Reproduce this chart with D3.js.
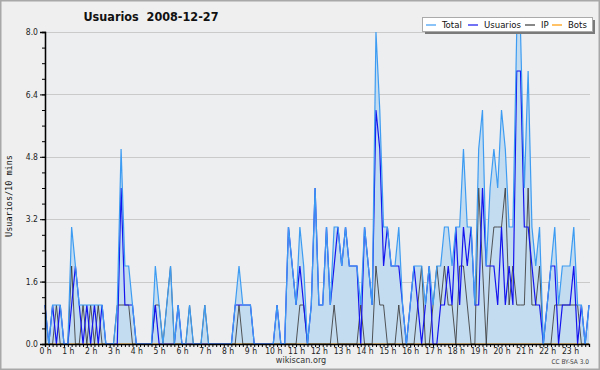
<!DOCTYPE html>
<html>
<head>
<meta charset="utf-8">
<script src="https://cdnjs.cloudflare.com/ajax/libs/d3/7.8.5/d3.min.js"></script>
<style>
	body { margin: 0; background: #fff; }
	svg { display: block; font-family: 'DejaVu Sans Condensed', 'DejaVu Sans', sans-serif; font-stretch: condensed; }
</style>
</head>
<body>
<svg id="chart" width="600" height="370"></svg>
<script>
'use strict';

var TITLE = 'Usuarios  2008-12-27';
var Y_LABEL = 'Usuarios/10 mins';
var Y_TICKS = [0, 1.6, 3.2, 4.8, 6.4, 8.0];
var HOUR_LABELS = ['0 h', '1 h', '2 h', '3 h', '4 h', '5 h', '6 h', '7 h', '8 h', '9 h', '10 h', '11 h',
	'12 h', '13 h', '14 h', '15 h', '16 h', '17 h', '18 h', '19 h', '20 h', '21 h', '22 h', '23 h'];
var SERIES_NAMES = ['Total', 'Usuarios', 'IP', 'Bots'];

// one value every 10 minutes, 144 per series (6 per hour)
var total = [
	1,0,1,1,1,0, 0,3,2,1,1,1, 1,1,1,1,0,0, 0,1,5,2,2,1,
	0,0,0,0,0,2, 1,0,1,2,0,1, 0,0,1,0,0,0, 1,0,0,0,0,0,
	0,0,1,2,1,1, 1,0,0,0,0,0, 0,1,0,0,3,2, 1,3,2,0,1,4,
	1,1,3,1,3,3, 2,3,2,2,2,1, 3,2,1,8,6,3, 3,2,2,3,1,0,
	1,2,2,2,1,2, 1,2,2,3,3,2, 3,3,5,3,3,1, 5,6,2,4,5,4,
	6,5,3,3,8,8, 4,7,3,2,3,0, 1,2,3,1,2,2, 2,3,1,1,0,1
];
var usuarios = [
	1,0,1,0,1,0, 0,1,2,1,0,1, 0,1,0,1,0,0, 0,0,4,1,1,1,
	0,0,0,0,0,1, 0,0,0,0,0,1, 0,0,0,0,0,0, 0,0,0,0,0,0,
	0,0,1,1,1,1, 1,0,0,0,0,0, 0,1,0,0,3,2, 1,2,1,0,1,4,
	1,1,3,1,2,3, 2,3,2,2,2,0, 3,2,1,6,5,2, 3,2,2,2,1,0,
	1,2,1,0,1,2, 0,0,1,1,2,1, 3,1,3,2,3,1, 1,4,2,2,2,1,
	3,1,2,1,7,7, 3,3,2,1,1,0, 1,2,2,0,1,1, 1,2,0,1,0,1
];
var ip = [
	0,0,0,1,0,0, 0,2,0,0,1,0, 1,0,1,0,0,0, 0,1,1,1,1,0,
	0,0,0,0,0,1, 1,0,1,2,0,0, 0,0,1,0,0,0, 1,0,0,0,0,0,
	0,0,0,1,0,0, 0,0,0,0,0,0, 0,0,0,0,0,0, 0,1,1,0,0,0,
	0,0,0,0,1,0, 0,0,0,0,0,1, 0,0,0,2,1,1, 0,0,0,1,0,0,
	0,0,1,2,0,0, 1,2,1,2,1,1, 0,2,2,1,0,0, 4,2,0,2,3,3,
	3,4,1,2,1,1, 1,4,1,1,2,0, 0,0,1,1,1,1, 1,1,1,0,0,0
];
var bots = [
	0,0,0,0,0,0, 0,0,0,0,0,0, 0,0,0,0,0,0, 0,0,0,0,0,0,
	0,0,0,0,0,0, 0,0,0,0,0,0, 0,0,0,0,0,0, 0,0,0,0,0,0,
	0,0,0,0,0,0, 0,0,0,0,0,0, 0,0,0,0,0,0, 0,0,0,0,0,0,
	0,0,0,0,0,0, 0,0,0,0,0,0, 0,0,0,0,0,0, 0,0,0,0,0,0,
	0,0,0,0,0,0, 0,0,0,0,0,0, 0,0,0,0,0,0, 0,0,0,0,0,0,
	0,0,0,0,0,0, 0,0,0,0,0,0, 0,0,0,0,0,0, 0,0,0,0,0,0
];

var COLORS = ['#3d9cf2', '#1414ee', '#3a3a3a', '#ff9900'];

var width = 600,
	height = 370,
	plot = {left: 45, right: 589, top: 32, bottom: 344};

var svg = d3.select('#chart');

// page frame
svg.append('rect')
	.attr('x', 0.75).attr('y', 0.75)
	.attr('width', width - 1.5).attr('height', height - 1.5)
	.attr('fill', '#efefef')
	.attr('stroke', '#a8a8a8')
	.attr('stroke-width', 1.5);

var x = d3.scaleLinear().domain([0, total.length - 1]).range([plot.left, plot.right]);
var y = d3.scaleLinear().domain([0, 8]).range([plot.bottom, plot.top]);

// plot background
svg.append('rect')
	.attr('x', plot.left).attr('y', plot.top - 2)
	.attr('width', plot.right - plot.left + 1)
	.attr('height', plot.bottom - plot.top + 2)
	.attr('fill', '#eceef0');

// grid
svg.append('g')
	.selectAll('line')
	.data(Y_TICKS.slice(1))
	.enter()
	.append('line')
	.attr('x1', plot.left).attr('x2', plot.right + 1)
	.attr('y1', function(d) { return Math.round(y(d)) + 0.5; })
	.attr('y2', function(d) { return Math.round(y(d)) + 0.5; })
	.attr('stroke', '#cacaca')
	.attr('stroke-width', 1);

// total area + lines
var idx = d3.range(total.length);

svg.append('path')
	.datum(idx)
	.attr('fill', '#c4dcf0')
	.attr('d', d3.area()
		.x(function(i) { return x(i); })
		.y0(y(0))
		.y1(function(i) { return y(total[i]); }));

var series = [total, usuarios, ip, bots];

[bots, ip, usuarios, total].forEach(function(values) {
	var n = series.indexOf(values);
	svg.append('path')
		.datum(idx)
		.attr('fill', 'none')
		.attr('stroke', COLORS[n])
		.attr('stroke-width', n === 2 ? 1 : 1.2)
		.attr('opacity', n === 2 ? 0.85 : 1)
		.attr('d', d3.line()
			.x(function(i) { return x(i); })
			.y(function(i) { return y(values[i]); }));
});

// y axis
var yAxis = svg.append('g')
	.attr('transform', 'translate(' + plot.left + ',0)')
	.call(d3.axisLeft(y)
		.tickValues(Y_TICKS)
		.tickSize(5)
		.tickFormat(d3.format('.1f')));

var yMinor = svg.append('g')
	.attr('transform', 'translate(' + plot.left + ',0)')
	.call(d3.axisLeft(y)
		.tickValues(d3.range(0, 8.01, 0.4))
		.tickSize(3)
		.tickFormat(''));

// x axis
var xAxis = svg.append('g')
	.attr('transform', 'translate(0,' + plot.bottom + ')')
	.call(d3.axisBottom(x)
		.tickValues(idx)
		.tickSize(3)
		.tickFormat(function(i) { return i % 6 === 0 ? HOUR_LABELS[i / 6] : ''; }));

[yAxis, yMinor, xAxis].forEach(function(g) {
	g.attr('font-family', null);
	g.select('.domain').attr('stroke', '#000').attr('stroke-width', 1.3);
	g.selectAll('.tick line').attr('stroke', '#000');
	g.selectAll('.tick text')
		.attr('fill', '#222')
		.attr('font-size', 8.5);
});
yAxis.selectAll('.tick text').attr('dx', 1);
xAxis.selectAll('.tick text').attr('y', 4).attr('dy', '0.71em');

// titles
svg.append('text')
	.attr('x', 151).attr('y', 21)
	.attr('text-anchor', 'middle')
	.attr('font-size', 12.5)
	.attr('font-weight', 'bold')
	.attr('fill', '#111')
	.attr('xml:space', 'preserve')
	.text(TITLE);

svg.append('text')
	.attr('transform', 'translate(12,196) rotate(-90)')
	.attr('text-anchor', 'middle')
	.attr('font-family', "'DejaVu Sans Mono', monospace")
	.attr('font-stretch', 'normal')
	.attr('font-size', 8.5)
	.attr('fill', '#111')
	.text(Y_LABEL);

svg.append('text')
	.attr('x', 301).attr('y', 363)
	.attr('text-anchor', 'middle')
	.attr('font-size', 9)
	.attr('fill', '#333')
	.text('wikiscan.org');

svg.append('text')
	.attr('x', 589).attr('y', 364)
	.attr('text-anchor', 'end')
	.attr('font-size', 6.5)
	.attr('fill', '#444')
	.text('CC BY-SA 3.0');

// legend
var legend = svg.append('g').attr('transform', 'translate(422,17)');
legend.append('rect')
	.attr('x', 3).attr('y', 3)
	.attr('width', 170).attr('height', 14)
	.attr('fill', '#7a7a7a');
legend.append('rect')
	.attr('x', 0.5).attr('y', 0.5)
	.attr('width', 170).attr('height', 14)
	.attr('fill', '#fff')
	.attr('stroke', '#aaa');

var legendX = [4, 46, 103, 130];
SERIES_NAMES.forEach(function(name, n) {
	var item = legend.append('g').attr('transform', 'translate(' + legendX[n] + ',0)');
	item.append('line')
		.attr('x1', 0).attr('x2', 10)
		.attr('y1', 8).attr('y2', 8)
		.attr('stroke', COLORS[n])
		.attr('stroke-width', 1.2);
	item.append('text')
		.attr('x', 16).attr('y', 11)
		.attr('font-size', 9.5)
		.attr('fill', '#111')
		.text(name);
});
</script>
</body>
</html>
